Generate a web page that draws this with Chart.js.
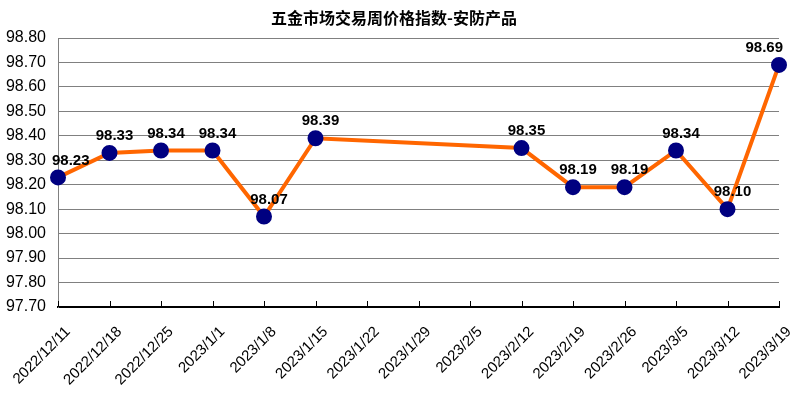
<!DOCTYPE html>
<html>
<head>
<meta charset="utf-8">
<script src="https://cdn.jsdelivr.net/npm/chart.js@4"></script>
<style>
  html, body { margin: 0; padding: 0; background: #fff; }
  #wrap { width: 791px; height: 397px; }
</style>
</head>
<body>
<div id="wrap"><canvas id="priceChart" width="791" height="397"></canvas></div>
<script>
// 五金市场交易周价格指数 - 安防产品
const titleText = '五金市场交易周价格指数-安防产品';
const weeks = [
    '2022/12/11', '2022/12/18', '2022/12/25', '2023/1/1', '2023/1/8',
    '2023/1/15', '2023/1/22', '2023/1/29', '2023/2/5', '2023/2/12',
    '2023/2/19', '2023/2/26', '2023/3/5', '2023/3/12', '2023/3/19'
];
const priceIndex = [
    98.23, 98.33, 98.34, 98.34, 98.07,
    98.39, null, null, null, 98.35,
    98.19, 98.19, 98.34, 98.10, 98.69
];
const yMin = 97.7;
const yMax = 98.8;
const yStep = 0.1;

const FONT = '"Liberation Sans", Arial, sans-serif';

// title drawn by hand so the plot area top stays fixed
const titlePlugin = {
    id: 'titleText',
    afterDraw(chart) {
        const ctx = chart.ctx;
        ctx.save();
        ctx.font = 'bold 16px "Noto Sans CJK SC", sans-serif';
        ctx.fillStyle = '#000';
        ctx.textAlign = 'center';
        ctx.textBaseline = 'middle';
        ctx.fillText(titleText, 394, 18);
        ctx.restore();
    }
};

// value labels above every point
const valueLabels = {
    id: 'valueLabels',
    afterDatasetsDraw(chart) {
        const ctx = chart.ctx;
        const meta = chart.getDatasetMeta(0);
        ctx.save();
        ctx.font = 'bold 15px ' + FONT;
        ctx.fillStyle = '#000';
        ctx.textAlign = 'center';
        ctx.textBaseline = 'middle';
        meta.data.forEach((pt, i) => {
            const v = priceIndex[i];
            if (v === null) return;
            const txt = v.toFixed(2);
            const w = ctx.measureText(txt).width;
            let x = pt.x + 5;
            if (x + w / 2 > chart.width - 8) x = chart.width - 8 - w / 2;
            if (x - w / 2 < chart.chartArea.left - 6) x = chart.chartArea.left - 6 + w / 2;
            ctx.fillText(txt, x, pt.y - 17);
        });
        ctx.restore();
    }
};

// small tick marks pointing up into the plot on the x axis
const innerTicks = {
    id: 'innerTicks',
    afterDraw(chart) {
        const ctx = chart.ctx;
        const xs = chart.scales.x;
        const bottom = chart.chartArea.bottom;
        ctx.save();
        ctx.strokeStyle = '#000';
        ctx.lineWidth = 1;
        for (let i = 0; i < weeks.length; i++) {
            const x = Math.round(xs.getPixelForTick(i)) + 0.5;
            ctx.beginPath();
            ctx.moveTo(x, bottom);
            ctx.lineTo(x, bottom - 6);
            ctx.stroke();
        }
        ctx.restore();
    }
};

new Chart(document.getElementById('priceChart'), {
    type: 'line',
    data: {
        labels: weeks,
        datasets: [{
            label: titleText,
            data: priceIndex,
            borderColor: '#ff6600',
            borderWidth: 4,
            backgroundColor: '#000080',
            pointBackgroundColor: '#000080',
            pointBorderColor: '#000080',
            pointRadius: 6,
            pointHoverRadius: 6,
            tension: 0,
            spanGaps: true,
            fill: false
        }]
    },
    options: {
        responsive: false,
        animation: false,
        devicePixelRatio: 1,
        layout: { padding: { top: 38, right: 12, bottom: 0, left: 0 } },
        scales: {
            x: {
                offset: false,
                grid: { display: true, drawOnChartArea: false, drawTicks: false },
                border: { color: '#000', width: 2 },
                ticks: {
                    color: '#000',
                    font: { family: FONT, size: 15 },
                    maxRotation: 45,
                    minRotation: 45,
                    autoSkip: false,
                    padding: 16,
                    labelOffset: 10
                },
                afterFit(scale) {
                    scale.height = 90;
                    scale.paddingLeft = 0;
                    scale.paddingRight = 0;
                }
            },
            y: {
                min: yMin,
                max: yMax,
                grid: { color: '#808080', lineWidth: 1, drawTicks: false },
                border: { color: '#808080', width: 1 },
                ticks: {
                    stepSize: yStep,
                    color: '#000',
                    padding: 12,
                    font: { family: FONT, size: 16 },
                    callback: v => Number(v).toFixed(2)
                },
                afterFit(scale) { scale.width = 58; }
            }
        },
        plugins: {
            legend: { display: false },
            title: { display: false },
            tooltip: { enabled: false }
        }
    },
    plugins: [titlePlugin, valueLabels, innerTicks]
});
</script>
</body>
</html>
